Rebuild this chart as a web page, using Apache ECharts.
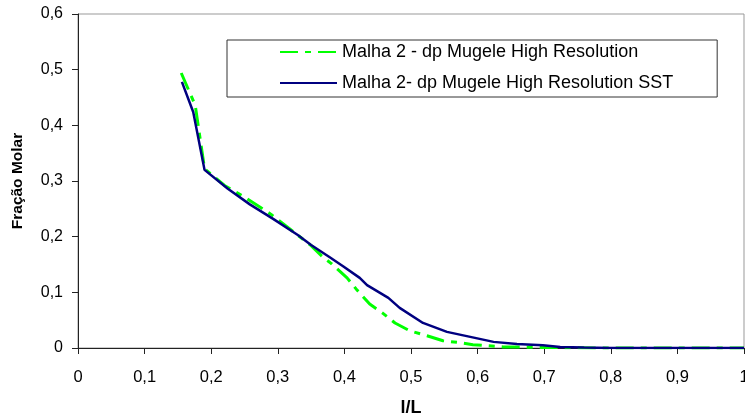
<!DOCTYPE html>
<html>
<head>
<meta charset="utf-8">
<script src="https://cdn.jsdelivr.net/npm/echarts@6/dist/echarts.min.js"></script>
<style>
html,body{margin:0;padding:0;background:#fff;}
#chart{width:745px;height:417px;}
</style>
</head>
<body>
<div id="chart"></div>
<script>
// Series 1: Malha 2 - dp Mugele High Resolution (green dash-dot)
const greenX = [0.155, 0.176, 0.19, 0.22, 0.25, 0.29, 0.32, 0.35, 0.368, 0.38, 0.404, 0.419, 0.438, 0.457, 0.476, 0.498, 0.524, 0.548, 0.571, 0.593, 0.638, 0.7, 0.78, 0.9, 1.0];
const greenY = [0.494, 0.436, 0.322, 0.292, 0.271, 0.24, 0.212, 0.184, 0.163, 0.152, 0.126, 0.104, 0.079, 0.063, 0.045, 0.031, 0.022, 0.013, 0.01, 0.006, 0.002, 0.001, 0, 0, 0];
// Series 2: Malha 2- dp Mugele High Resolution SST (navy solid)
const blueX = [0.156, 0.173, 0.19, 0.225, 0.258, 0.293, 0.33, 0.35, 0.378, 0.398, 0.423, 0.434, 0.466, 0.483, 0.518, 0.554, 0.589, 0.624, 0.659, 0.698, 0.724, 0.76, 0.8, 0.9, 1.0];
const blueY = [0.478, 0.424, 0.32, 0.286, 0.258, 0.232, 0.203, 0.185, 0.163, 0.147, 0.126, 0.113, 0.09, 0.072, 0.045, 0.029, 0.02, 0.011, 0.007, 0.005, 0.002, 0.001, 0, 0, 0];
const seriesNames = ['Malha 2 - dp Mugele High Resolution', 'Malha 2- dp Mugele High Resolution SST'];
const xTitle = 'l/L';
const yTitle = 'Fração Molar';

const pairs = (xs, ys) => xs.map((x, i) => [x, ys[i]]);
const fmt = v => String(Number(v.toFixed(1))).replace('.', ',');
const FONT = '"Liberation Sans", Arial, sans-serif';

const chart = echarts.init(document.getElementById('chart'), null, {renderer: 'canvas'});
chart.setOption({
  animation: false,
  backgroundColor: '#fff',
  textStyle: {fontFamily: FONT},
  grid: {left: 78, top: 14, right: 1, bottom: 69, show: true, borderColor: '#999', borderWidth: 1, containLabel: false, outerBoundsMode: 'none'},
  legend: {
    orient: 'vertical',
    left: 227, top: 40,
    padding: [3, 44, 5, 52],
    itemWidth: 57, itemHeight: 18, itemGap: 13,
    borderColor: '#333', borderWidth: 1,
    backgroundColor: '#fff',
    itemStyle: {opacity: 0},
    textStyle: {fontSize: 18, color: '#000', fontFamily: FONT},
    data: seriesNames
  },
  xAxis: {
    type: 'value', min: 0, max: 1, interval: 0.1,
    name: xTitle, nameLocation: 'middle', nameGap: 51,
    nameTextStyle: {fontSize: 18, fontWeight: 'bold', color: '#000', fontFamily: FONT},
    axisLine: {show: true, lineStyle: {color: '#222', width: 1}},
    axisTick: {show: true, length: 6, lineStyle: {color: '#222'}},
    axisLabel: {fontSize: 16.5, color: '#000', margin: 21, formatter: fmt, fontFamily: FONT},
    splitLine: {show: false}
  },
  yAxis: {
    type: 'value', min: 0, max: 0.6, interval: 0.1,
    name: yTitle, nameLocation: 'middle', nameGap: 52, nameRotate: 90,
    nameTextStyle: {fontSize: 15.5, fontWeight: 'bold', color: '#000', fontFamily: FONT},
    axisLine: {show: true, lineStyle: {color: '#222', width: 1}},
    axisTick: {show: true, length: 6, lineStyle: {color: '#222'}},
    axisLabel: {fontSize: 16, color: '#000', margin: 15, formatter: fmt, fontFamily: FONT},
    splitLine: {show: false}
  },
  series: [
    {
      name: seriesNames[0], type: 'line', symbol: 'none', z: 2,
      data: pairs(greenX, greenY),
      lineStyle: {color: '#00FF00', width: 3, type: [18, 7, 6, 7]},
      itemStyle: {color: '#00FF00'}
    },
    {
      name: seriesNames[1], type: 'line', symbol: 'none', z: 3,
      data: pairs(blueX, blueY),
      lineStyle: {color: '#000080', width: 2.5, type: 'solid'},
      itemStyle: {color: '#000080'}
    }
  ]
});
</script>
</body>
</html>
